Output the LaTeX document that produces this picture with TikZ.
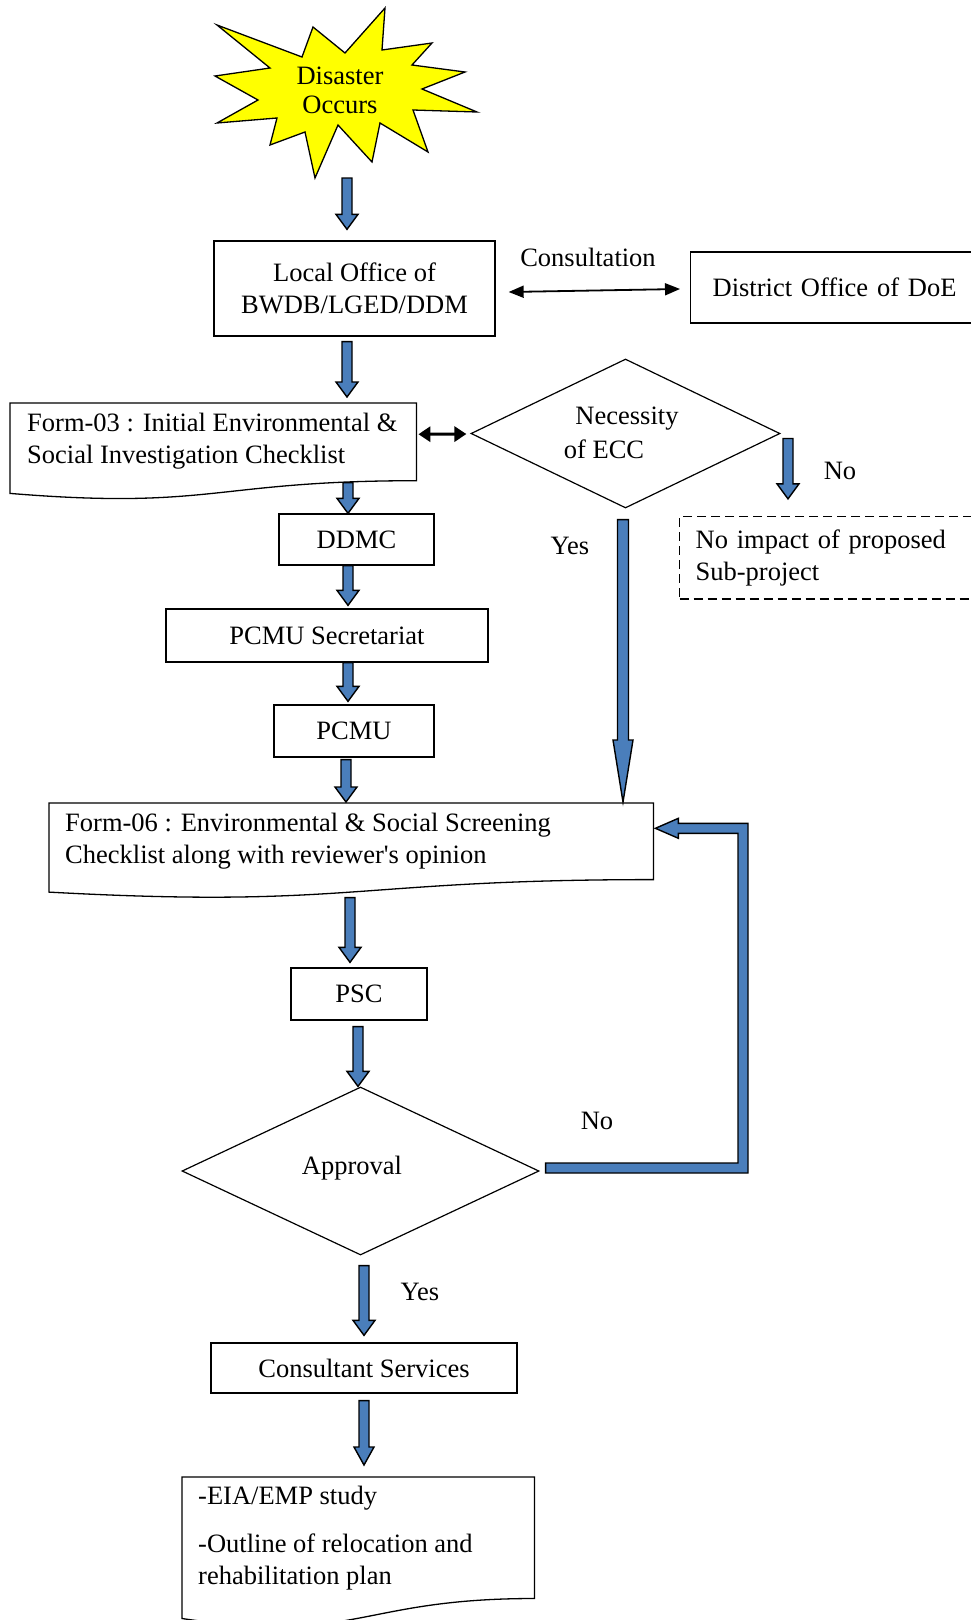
\documentclass[tikz,border=0pt]{standalone}
\usepackage{fontspec}
\setmainfont{Liberation Serif}
\newfontfamily\plainrm{Liberation Serif}
\usetikzlibrary{calc,shapes.geometric,arrows.meta}
\definecolor{arrowblue}{RGB}{74,126,187}
\definecolor{staryellow}{RGB}{255,255,0}
% block arrow pointing down: #1 start, #2 tip, #3 shaft half width, #4 head half width, #5 head length
\newcommand\blkdown[5]{%
  \draw[blockarrow] let \p1=#1, \p2=#2 in
    (\x1-#3pt,\y1) -- (\x1+#3pt,\y1) -- (\x1+#3pt,\y2+#5pt) -- (\x1+#4pt,\y2+#5pt)
    -- (\x1,\y2) -- (\x1-#4pt,\y2+#5pt) -- (\x1-#3pt,\y2+#5pt) -- cycle;}
% document outline with wavy bottom
\newcommand\docwave[3]{%
  \draw[docline] (#1.north west) -- (#1.north east) -- (#1.south east)
    .. controls (#1.south) and ($(#1.south)+(0,#2)$) .. ($(#1.south west)+(0,#3)$) -- cycle;}
\begin{document}
\begin{tikzpicture}[x=1pt,y=-1pt,
  every node/.style={font=\fontsize{26.5}{32}\selectfont, inner sep=0pt},
  box/.style={draw, line width=1.3pt, align=center},
  docbox/.style={rectangle, anchor=north west, draw=none},
  docline/.style={line width=1.3pt, line join=miter},
  dec/.style={diamond, draw, line width=1.2pt, inner sep=0pt},
  blockarrow/.style={draw, fill=arrowblue, line width=1.4pt, line join=miter},
  dbl/.style={line width=1.8pt, {Triangle[length=15pt,width=12pt]}-{Triangle[length=15pt,width=12pt]}},
  dblthick/.style={line width=3pt, {Triangle[length=12pt,width=15pt]}-{Triangle[length=12pt,width=15pt]}},
]
\useasboundingbox (0,0) rectangle (971,1620);

% star
\draw[fill=staryellow, line width=1.3pt, line join=miter]
  (465,72) -- (422,89) -- (477,112) -- (413,110) -- (428,152) -- (380,123) -- (372,162)
  -- (338,125) -- (315,178) -- (305,132) -- (270,145) -- (277,118) -- (217,123) -- (258,100)
  -- (215,76) -- (270,68) -- (217,25) -- (302,57) -- (313,27) -- (345,53) -- (385,8)
  -- (382,50) -- (432,43) -- (412,65) -- cycle;
\node[align=center] (star) at (340,90.5) {Disaster\\[-3pt]Occurs};
\coordinate (starbot) at (347,178);

% columns for block arrows
\coordinate (cA) at (347,0);
\coordinate (cB) at (348,0);
\coordinate (cC) at (346,0);
\coordinate (cD) at (350,0);
\coordinate (cE) at (358,0);
\coordinate (cF) at (364,0);
\coordinate (cY) at (623,0);
\coordinate (cN) at (788,0);
\coordinate (fbR) at (748,0);

% nodes
\node[box, minimum width=281, minimum height=95] (lo) at (354.5,288.5) {Local Office of\\BWDB/LGED/DDM};
\node[box, anchor=west, align=left, inner xsep=22pt, text width=282pt, minimum height=71] (do) at (690,287.5) {District Office of DoE};
\node (cons) at (588,257) {Consultation};

\node[docbox, minimum width=406, minimum height=77.3] (f3) at (10,403) {};
\docwave{f3}{29.4}{12.7}
\node[anchor=west, align=left] (f3t) at (27,441) {Form-03 : Initial Environmental \&\\Social Investigation Checklist};

\node[dec, minimum width=309, minimum height=149] (nec) at (625.5,433.5) {};
\node (nect1) at (627,419) {Necessity};
\node (nect2) at (604,449) {of ECC};

\node[box, dashed, dash pattern=on 9pt off 5pt, anchor=west, align=left, inner xsep=16pt, text width=290pt, minimum height=82.5] (nb) at (679,557.75) {No impact of proposed\\Sub-project};

\node[box, minimum width=155, minimum height=51] (dd) at (356.5,539.5) {DDMC};
\node[box, minimum width=322, minimum height=53] (ps) at (327,635.5) {PCMU Secretariat};
\node[box, minimum width=160, minimum height=52] (pc) at (354,731) {PCMU};

\node[docbox, minimum width=604, minimum height=76.2] (f6) at (49,803) {};
\docwave{f6}{29}{12.5}
\node[anchor=west, align=left] (f6t) at (65,841) {Form-06 : Environmental \& Social Screening\\Checklist along with reviewer{\plainrm '}s opinion};

\node[box, minimum width=136, minimum height=52] (psc) at (359,994) {PSC};
\node[dec, minimum width=357, minimum height=168] (app) at (360.5,1171) {};
\node (appt) at (352,1168) {Approval};
\node[box, minimum width=306, minimum height=50] (cs) at (364,1368) {Consultant Services};

\node[docbox, minimum width=352, minimum height=121.1] (fin) at (182,1477) {};
\docwave{fin}{46}{20}
\node[anchor=west, align=left] (fint) at (198,1538) {-EIA/EMP study\\[16pt]-Outline of relocation and\\rehabilitation plan};

% labels
\node (no1) at (840,471) {No};
\node (yes1) at (570,546) {Yes};
\node (no2) at (597,1121) {No};
\node (yes2) at (420,1292) {Yes};

% thin double arrows
\draw[dbl] ($(lo.east)+(13,3.5)$) -- ($(do.west)+(-10,1.5)$);
\draw[dblthick] ($(f3.east)+(2,-7.6)$) -- ($(nec.west)+(-4,0.5)$);

% block arrows
\blkdown{(starbot)}{($(lo.north -| cA)+(0,-11)$)}{5}{11}{15}
\blkdown{($(lo.south -| cA)+(0,5)$)}{($(f3.north -| cA)+(0,-6)$)}{5}{11}{15}
\blkdown{($(f3.south -| cB)+(0,2)$)}{(dd.north -| cB)}{5}{11}{15}
\blkdown{(dd.south -| cB)}{($(ps.north -| cB)+(0,-3)$)}{5}{11}{15}
\blkdown{(ps.south -| cB)}{($(pc.north -| cB)+(0,-3)$)}{5}{11}{15}
\blkdown{($(pc.south -| cC)+(0,2)$)}{($(f6.north -| cC)+(0,-1)$)}{5}{11}{15}
\blkdown{($(f6.south -| cD)+(0,18)$)}{($(psc.north -| cD)+(0,-5)$)}{5}{11}{15}
\blkdown{($(psc.south -| cE)+(0,6)$)}{(app.north -| cE)}{5}{11}{15}
\blkdown{($(app.south -| cF)+(0,10)$)}{($(cs.north -| cF)+(0,-7)$)}{5}{11}{15}
\blkdown{($(cs.south -| cF)+(0,7)$)}{($(fin.north -| cF)+(0,-12)$)}{5}{10}{18}
\blkdown{($(nec.east -| cN)+(0,5)$)}{($(nb.north -| cN)+(0,-17)$)}{5}{11}{15}
\blkdown{($(nec.south -| cY)+(0,11)$)}{($(f6.north -| cY)+(0,-1)$)}{5.5}{10}{62}

% feedback "No" path from Approval back to Form-06
\draw[blockarrow] let \p1=($(app.east)+(6,-3)$), \p2=($(f6.east)+(2,-13)$), \p3=(fbR) in
  (\x1,\y1+5pt) -- (\x3-10pt,\y1+5pt) -- (\x3-10pt,\y2-5pt) -- (\x2+23pt,\y2-5pt)
  -- (\x2+23pt,\y2-10pt) -- (\x2,\y2) -- (\x2+23pt,\y2+10pt) -- (\x2+23pt,\y2+5pt)
  -- (\x3,\y2+5pt) -- (\x3,\y1-5pt) -- (\x1,\y1-5pt) -- cycle;
\end{tikzpicture}
\end{document}
